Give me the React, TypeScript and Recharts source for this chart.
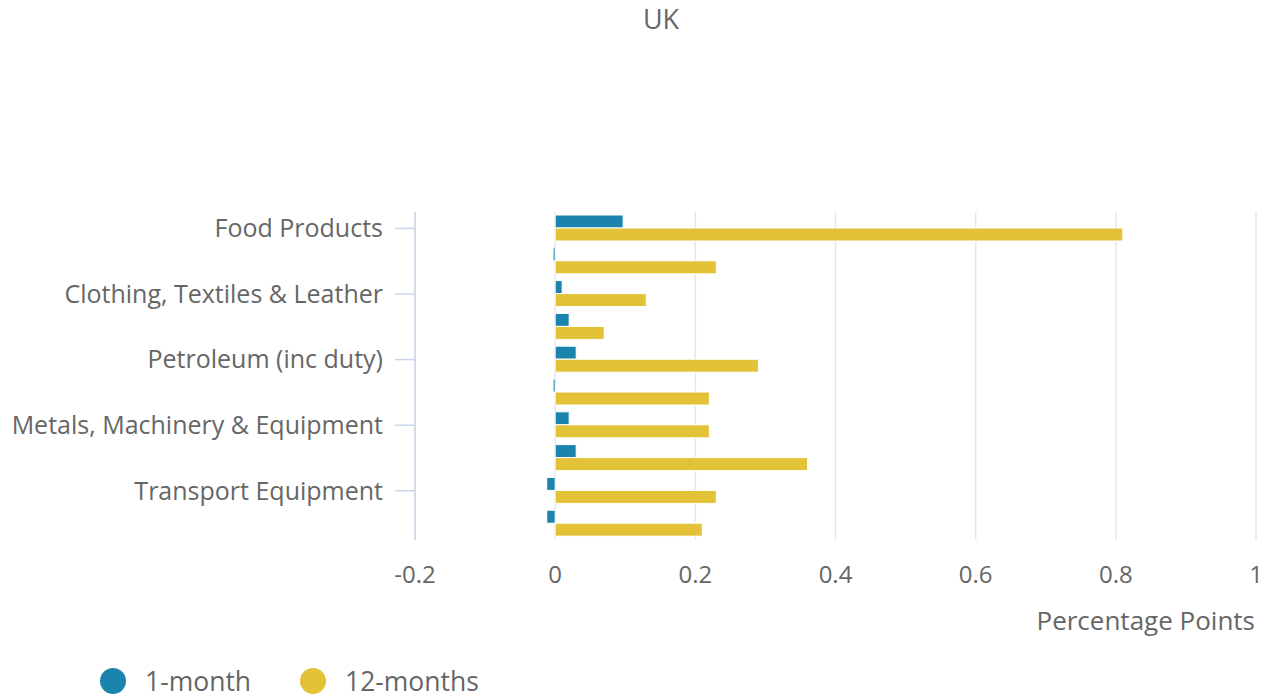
import React from 'react';
import { BarChart, Bar, XAxis, YAxis, CartesianGrid, Label } from 'recharts';

const categories = [
  'Food Products',
  'Tobacco & Alcohol (inc duty)',
  'Clothing, Textiles & Leather',
  'Paper & Printing',
  'Petroleum (inc duty)',
  'Chemicals & Pharmaceutical',
  'Metals, Machinery & Equipment',
  'Computer, Electrical & Optical',
  'Transport Equipment',
  'Other Manufactured Products',
];

const oneMonth = [0.097, -0.003, 0.01, 0.02, 0.03, -0.003, 0.02, 0.03, -0.012, -0.012];
const twelveMonths = [0.81, 0.23, 0.13, 0.07, 0.29, 0.22, 0.22, 0.36, 0.23, 0.21];

const xTicks = [-0.2, 0, 0.2, 0.4, 0.6, 0.8, 1];

const seriesNames = ['1-month', '12-months'];
const seriesColors = ['#1b84ad', '#e3c238'];

const FONT = '"Open Sans", sans-serif';
const TEXT = '#666666';

const data = categories.map((name, i) => ({
  name,
  m1: oneMonth[i],
  m12: twelveMonths[i],
}));

export default function App() {
  return (
    <div
      style={{
        position: 'absolute',
        left: 0,
        top: 0,
        width: 1267,
        height: 700,
        background: '#fff',
        fontFamily: FONT,
        overflow: 'hidden',
      }}
    >
      <div
        style={{
          position: 'absolute',
          top: 0,
          left: 561,
          width: 200,
          textAlign: 'center',
          fontSize: 27,
          color: TEXT,
        }}
      >
        UK
      </div>

      <BarChart
        width={1267}
        height={700}
        data={data}
        layout="vertical"
        margin={{ top: 212, right: 11, left: 0, bottom: 60 }}
        barGap={0}
        barSize={13}
      >
        <CartesianGrid horizontal={false} stroke="#e6e6e6" strokeWidth={1.5} />
        <XAxis
          type="number"
          domain={[-0.2, 1]}
          ticks={xTicks}
          axisLine={false}
          tickLine={false}
          tickSize={0}
          tickMargin={26}
          height={100}
          tick={{ fill: TEXT, fontSize: 24, fontFamily: FONT }}
        >
          <Label
            value="Percentage Points"
            position="insideBottomRight"
            offset={1}
            dy={-9}
            style={{ fill: TEXT, fontSize: 26, fontFamily: FONT }}
          />
        </XAxis>
        <YAxis
          type="category"
          dataKey="name"
          width={415}
          interval={1}
          axisLine={{ stroke: '#ccd6eb', strokeWidth: 1.5 }}
          tickLine={{ stroke: '#ccd6eb', strokeWidth: 1.5 }}
          tickSize={20}
          tickMargin={12}
          tick={{ fill: TEXT, fontSize: 25, fontFamily: FONT }}
        />
        <Bar
          dataKey="m1"
          name={seriesNames[0]}
          fill={seriesColors[0]}
          stroke="#ffffff"
          strokeWidth={1}
          isAnimationActive={false}
        />
        <Bar
          dataKey="m12"
          name={seriesNames[1]}
          fill={seriesColors[1]}
          stroke="#ffffff"
          strokeWidth={1}
          isAnimationActive={false}
        />
      </BarChart>

      {seriesNames.map((s, i) => (
        <div
          key={s}
          style={{
            position: 'absolute',
            left: 100 + i * 200,
            top: 663,
            display: 'flex',
            alignItems: 'center',
            fontSize: 26.5,
            color: TEXT,
            whiteSpace: 'nowrap',
          }}
        >
          <span
            style={{
              display: 'inline-block',
              width: 26,
              height: 26,
              borderRadius: '50%',
              background: seriesColors[i],
              marginRight: 19,
            }}
          />
          <span>{s}</span>
        </div>
      ))}
    </div>
  );
}
